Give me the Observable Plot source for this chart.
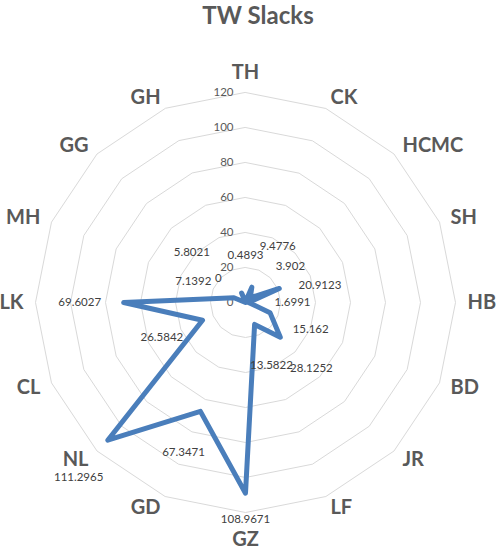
<!DOCTYPE html>
<html>
<head>
<meta charset="utf-8">
<script src="https://cdn.jsdelivr.net/npm/d3@7"></script>
<script src="https://cdn.jsdelivr.net/npm/@observablehq/plot@0.6"></script>
<style>
  html, body { margin: 0; padding: 0; background: #fff; }
  #title { height: 32px; line-height: 30px; font: bold 24px Lato, "Open Sans", sans-serif; color: #595959; text-align: center; padding-left: 20px; box-sizing: border-box; width: 496px; }
  #chart svg { display: block; }
</style>
</head>
<body>
<div id="title">TW Slacks</div>
<div id="chart"></div>
<script>
// ---- data ----
const categories = ["TH","CK","HCMC","SH","HB","BD","JR","LF","GZ","GD","NL","CL","LK","MH","GG","GH"];
const values = [0.4893, 9.4776, 3.902, 20.9123, 1.6991, 15.162, 28.1252, 13.5822, 108.9671, 67.3471, 111.2965, 26.5842, 69.6027, 7.1392, 0, 5.8021];
const ticks = [0, 20, 40, 60, 80, 100, 120];

// ---- geometry helpers (data units) ----
const n = categories.length;
const maxV = 120;
const pxPerUnit = 210 / maxV;
const ang = i => i * 2 * Math.PI / n;
const polar = (r, i) => ({x: r * Math.sin(ang(i)), y: r * Math.cos(ang(i))});

// grid rings
const rings = [];
ticks.filter(t => t > 0).forEach(t => categories.forEach((c, i) => rings.push({level: t, ...polar(t, i)})));

// series points
const pts = categories.map((c, i) => ({cat: c, v: values[i], ...polar(values[i], i)}));

// data labels: placed outward from each point
const labelGap = 44 / pxPerUnit;
const nudge = {TH: [0, -2], CK: [9, 0], HCMC: [9, 0], SH: [0, 14], NL: [2, 6], GG: [4, 7], GH: [-33, 0]};
const dataLabels = pts.map((p, i) => {
  const q = polar(p.v + labelGap, i);
  const nd = nudge[p.cat] || [0, 0];
  return {text: String(p.v), x: q.x + nd[0] / pxPerUnit, y: Math.max(q.y - nd[1] / pxPerUnit, -124)};
});

// category labels
const catR = 222 / pxPerUnit;
const cats = categories.map((c, i) => ({cat: c, s: Math.sin(ang(i)), c0: Math.cos(ang(i)), ...polar(catR, i)}));

const font = "Lato, 'Open Sans', sans-serif";
const catStyle = {text: "cat", fontSize: 20, fontWeight: "bold", fill: "#595959", fontFamily: font};

const plot = Plot.plot({
  width: 496,
  height: 518,
  marginLeft: 35,
  marginRight: 41,
  marginTop: 60,
  marginBottom: 38,
  x: {domain: [-maxV, maxV], axis: null},
  y: {domain: [-maxV, maxV], axis: null},
  style: {fontFamily: font, background: "#fff"},
  marks: [
    Plot.line(rings, {x: "x", y: "y", z: "level", curve: "linear-closed", stroke: "#d9d9d9", strokeWidth: 1}),
    Plot.text(ticks, {x: 0, y: d => d, text: d => String(d), textAnchor: "end", dx: -12, fontSize: 11.5, fill: "#595959"}),
    Plot.line(pts, {x: "x", y: "y", curve: "linear-closed", stroke: "#4a7ebb", strokeWidth: 5, strokeLinejoin: "round"}),
    Plot.text(dataLabels, {x: "x", y: "y", text: "text", fontSize: 11.5, fill: "#404040"}),
    Plot.text(cats.filter(d => d.s > 0.01), {x: "x", y: "y", ...catStyle, textAnchor: "start"}),
    Plot.text(cats.filter(d => d.s < -0.01), {x: "x", y: "y", ...catStyle, textAnchor: "end"}),
    Plot.text(cats.filter(d => Math.abs(d.s) <= 0.01 && d.c0 > 0), {x: "x", y: "y", ...catStyle, lineAnchor: "bottom", dy: -2}),
    Plot.text(cats.filter(d => Math.abs(d.s) <= 0.01 && d.c0 < 0), {x: "x", y: "y", ...catStyle, lineAnchor: "top", dy: 7})
  ]
});
document.getElementById("chart").appendChild(plot);
</script>
</body>
</html>
